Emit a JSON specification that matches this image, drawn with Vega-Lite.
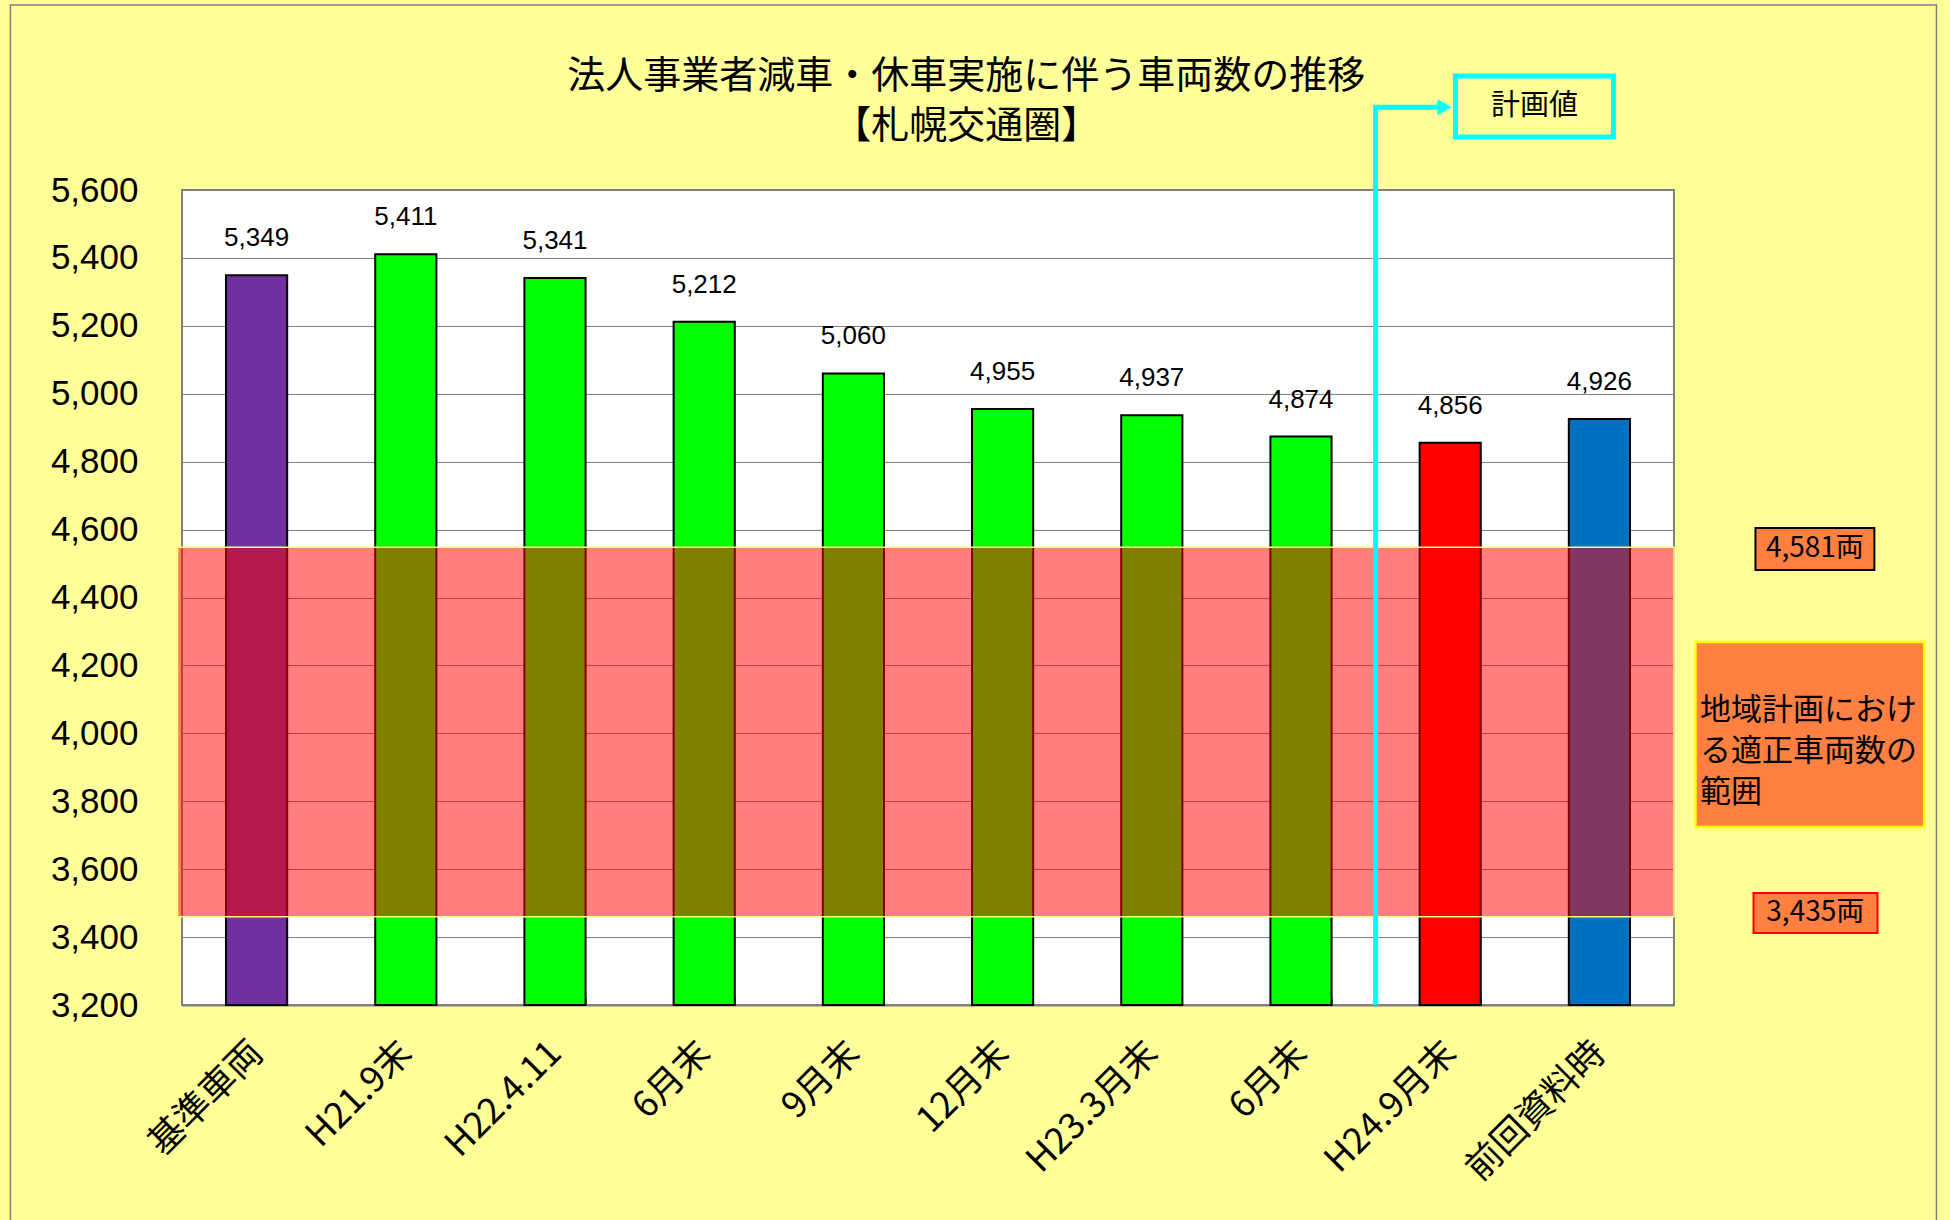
{
  "$schema": "https://vega.github.io/schema/vega-lite/v6.json",
  "width": 1492,
  "height": 815,
  "autosize": {"type": "none"},
  "padding": {"left": 182, "top": 190, "right": 276, "bottom": 215},
  "background": "#FFFF99",
  "config": {
    "font": "Liberation Sans",
    "view": {"stroke": "#808080", "strokeWidth": 2, "fill": "white"}
  },
  "resolve": {"scale": {"x": "independent"}},
  "layer": [
    {
      "data": {"values": [
        {"cat": "基準車両", "v": 5349, "grp": "基準"},
        {"cat": "H21.9末", "v": 5411, "grp": "実績"},
        {"cat": "H22.4.11", "v": 5341, "grp": "実績"},
        {"cat": "6月末", "v": 5212, "grp": "実績"},
        {"cat": "9月末", "v": 5060, "grp": "実績"},
        {"cat": "12月末", "v": 4955, "grp": "実績"},
        {"cat": "H23.3月末", "v": 4937, "grp": "実績"},
        {"cat": "6月末 ", "v": 4874, "grp": "実績"},
        {"cat": "H24.9月末", "v": 4856, "grp": "計画"},
        {"cat": "前回資料時", "v": 4926, "grp": "前回"}
      ]},
      "layer": [
        {
          "mark": {"type": "bar", "stroke": "black", "strokeWidth": 2},
          "encoding": {
            "x": {"field": "cat", "type": "nominal", "sort": null,
              "scale": {"paddingInner": 0.59, "paddingOuter": 0.295},
              "axis": {"title": null, "labelAngle": -45, "labelAlign": "right", "labelBaseline": "middle",
                "labelFont": "Noto Sans CJK JP", "labelFontSize": 36, "labelColor": "black", "labelPadding": 50, "labelLimit": 600,
                "tickBand": "extent", "tickSize": -8, "tickColor": "#808080", "domainColor": "#808080", "domainWidth": 2}},
            "y": {"field": "v", "type": "quantitative", "title": null,
              "scale": {"domain": [3200, 5600], "nice": false, "zero": false},
              "axis": {"values": [3200, 3400, 3600, 3800, 4000, 4200, 4400, 4600, 4800, 5000, 5200, 5400, 5600],
                "format": ",d", "labelFontSize": 35, "labelColor": "black", "labelPadding": 44,
                "ticks": false, "domain": false, "gridColor": "#808080", "gridWidth": 1}},
            "y2": {"datum": 3200},
            "color": {"field": "grp", "type": "nominal",
              "scale": {"domain": ["基準", "実績", "計画", "前回"], "range": ["#7030A0", "#00FF00", "#FF0000", "#0070C0"]},
              "legend": null}
          }
        },
        {
          "mark": {"type": "text", "fontSize": 26, "baseline": "middle", "dy": -37, "color": "black"},
          "encoding": {
            "x": {"field": "cat", "type": "nominal", "sort": null},
            "y": {"field": "v", "type": "quantitative", "title": null},
            "text": {"field": "v", "format": ","}
          }
        }
      ]
    },
    {
      "layer": [
        {
          "data": {"values": [{"lo": 3460, "hi": 4548}]},
          "mark": {"type": "rect", "fill": "#FF0000", "fillOpacity": 0.5, "stroke": "#FFFF80", "strokeWidth": 1.5},
          "encoding": {
            "x": {"datum": -0.03, "type": "quantitative", "scale": {"domain": [0, 10], "nice": false, "zero": false}, "axis": null},
            "x2": {"datum": 10},
            "y": {"field": "hi", "type": "quantitative", "title": null},
            "y2": {"field": "lo"}
          }
        },
        {
          "data": {"values": [{}]},
          "mark": {"type": "rule", "color": "#00FFFF", "strokeWidth": 5},
          "encoding": {
            "x": {"datum": 8, "type": "quantitative", "axis": null},
            "y": {"datum": 3200, "type": "quantitative", "title": null},
            "y2": {"datum": 5846}
          }
        },
        {
          "data": {"values": [{}]},
          "mark": {"type": "rule", "color": "#00FFFF", "strokeWidth": 5},
          "encoding": {
            "x": {"datum": 7.985, "type": "quantitative", "axis": null},
            "x2": {"datum": 8.45},
            "y": {"datum": 5844, "type": "quantitative", "title": null}
          }
        },
        {
          "data": {"values": [{}]},
          "mark": {"type": "point", "shape": "triangle-right", "filled": true, "color": "#00FFFF", "size": 260, "opacity": 1},
          "encoding": {
            "x": {"datum": 8.462, "type": "quantitative", "axis": null},
            "y": {"datum": 5844, "type": "quantitative", "title": null}
          }
        },
        {
          "data": {"values": [{}]},
          "mark": {"type": "rect", "fill": null, "stroke": "#00FFFF", "strokeWidth": 5},
          "encoding": {
            "x": {"datum": 8.535, "type": "quantitative", "axis": null},
            "x2": {"datum": 9.594},
            "y": {"datum": 5936, "type": "quantitative", "title": null},
            "y2": {"datum": 5756}
          }
        },
        {
          "data": {"values": [{"t": "計画値"}]},
          "mark": {"type": "text", "font": "Noto Sans CJK JP", "fontSize": 29, "color": "black", "baseline": "middle"},
          "encoding": {
            "x": {"datum": 9.065, "type": "quantitative", "axis": null},
            "y": {"datum": 5846, "type": "quantitative", "title": null},
            "text": {"field": "t"}
          }
        },
        {
          "data": {"values": [{}]},
          "mark": {"type": "text", "font": "Noto Sans CJK JP", "fontSize": 38, "color": "black", "baseline": "top", "align": "center",
            "lineHeight": 50, "text": ["法人事業者減車・休車実施に伴う車両数の推移", "【札幌交通圏】"]},
          "encoding": {
            "x": {"datum": 5.257, "type": "quantitative", "axis": null},
            "y": {"datum": 5990, "type": "quantitative", "title": null}
          }
        },
        {
          "data": {"values": [{}]},
          "mark": {"type": "rect", "fill": "#FF8040", "stroke": "black", "strokeWidth": 2},
          "encoding": {
            "x": {"datum": 10.546, "type": "quantitative", "axis": null},
            "x2": {"datum": 11.343},
            "y": {"datum": 4605, "type": "quantitative", "title": null},
            "y2": {"datum": 4481}
          }
        },
        {
          "data": {"values": [{"t": "4,581両"}]},
          "mark": {"type": "text", "font": "Noto Sans CJK JP", "fontSize": 28, "color": "black", "baseline": "middle"},
          "encoding": {
            "x": {"datum": 10.944, "type": "quantitative", "axis": null},
            "y": {"datum": 4543, "type": "quantitative", "title": null},
            "text": {"field": "t"}
          }
        },
        {
          "data": {"values": [{}]},
          "mark": {"type": "rect", "fill": "#FF8040", "stroke": "#FF0000", "strokeWidth": 2},
          "encoding": {
            "x": {"datum": 10.533, "type": "quantitative", "axis": null},
            "x2": {"datum": 11.364},
            "y": {"datum": 3530, "type": "quantitative", "title": null},
            "y2": {"datum": 3412}
          }
        },
        {
          "data": {"values": [{"t": "3,435両"}]},
          "mark": {"type": "text", "font": "Noto Sans CJK JP", "fontSize": 28, "color": "black", "baseline": "middle"},
          "encoding": {
            "x": {"datum": 10.947, "type": "quantitative", "axis": null},
            "y": {"datum": 3471, "type": "quantitative", "title": null},
            "text": {"field": "t"}
          }
        },
        {
          "data": {"values": [{}]},
          "mark": {"type": "rect", "fill": "#FF8040", "stroke": "#FFFF00", "strokeWidth": 2.5},
          "encoding": {
            "x": {"datum": 10.144, "type": "quantitative", "axis": null},
            "x2": {"datum": 11.677},
            "y": {"datum": 4269, "type": "quantitative", "title": null},
            "y2": {"datum": 3724}
          }
        },
        {
          "data": {"values": [{}]},
          "mark": {"type": "text", "font": "Noto Sans CJK JP", "fontSize": 31, "color": "black", "baseline": "top", "align": "left",
            "lineHeight": 41, "text": ["地域計画におけ", "る適正車両数の", "範囲"]},
          "encoding": {
            "x": {"datum": 10.175, "type": "quantitative", "axis": null},
            "y": {"datum": 4110, "type": "quantitative", "title": null}
          }
        },
        {
          "data": {"values": [{}]},
          "mark": {"type": "rect", "fill": null, "stroke": "#808080", "strokeWidth": 1.5},
          "encoding": {
            "x": {"datum": -1.15, "type": "quantitative", "axis": null},
            "x2": {"datum": 11.759},
            "y": {"datum": 6145, "type": "quantitative", "title": null},
            "y2": {"datum": 2500}
          }
        }
      ]
    }
  ]
}
